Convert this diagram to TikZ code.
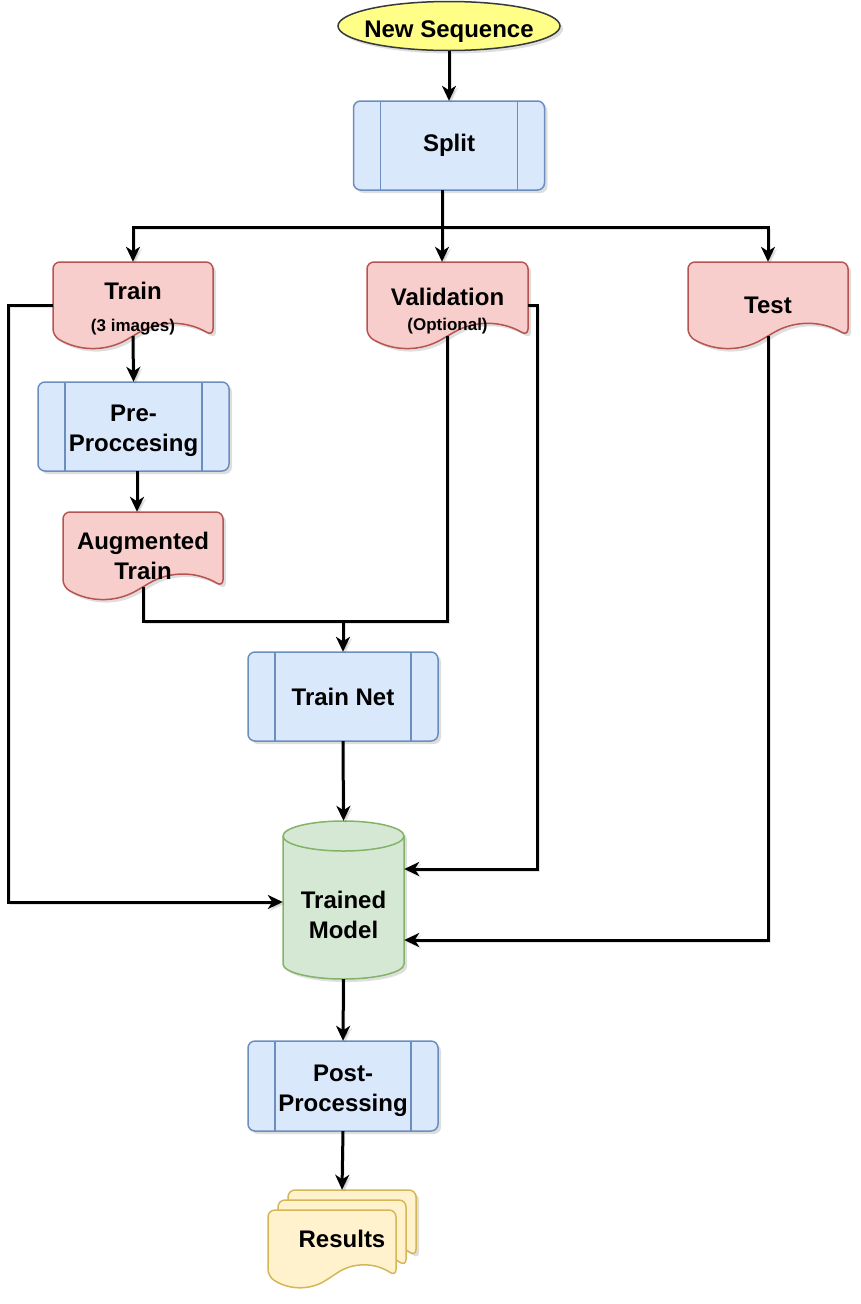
\documentclass[tikz,border=0pt]{standalone}
\usepackage{fontspec}
\setmainfont{Liberation Sans}
\usetikzlibrary{arrows.meta,shapes.geometric}
\definecolor{blueF}{HTML}{DAE8FC}\definecolor{blueD}{HTML}{6C8EBF}
\definecolor{pinkF}{HTML}{F8CECC}\definecolor{pinkD}{HTML}{B85450}
\definecolor{greenF}{HTML}{D5E8D4}\definecolor{greenD}{HTML}{82B366}
\definecolor{yelF}{HTML}{FFFF88}\definecolor{yelD}{HTML}{36393D}
\definecolor{resF}{HTML}{FFF2CC}\definecolor{resD}{HTML}{D6B656}
\newcommand\bigf{\fontsize{24}{30}\selectfont\bfseries}
\newcommand\smallf{\fontsize{17}{21}\selectfont\bfseries}
\newcommand\strutup[1]{\rule{0pt}{#1pt}}
\tikzset{
  wire/.style={line width=3pt, draw=black,
    preaction={draw=black!70, opacity=0.15, transform canvas={shift={(2pt,-2pt)}}}},
  conn/.style={wire, -{Stealth[length=15pt,width=14pt,inset=4.5pt]}},
  shad/.style={fill=black, opacity=0.13},
  textn/.style={inner sep=0pt, align=center, font=\bigf, text=black},
}
% process box: name X Y w h text
\newcommand\procbox[6]{%
  \fill[shad, rounded corners=7pt] ({#2+3},{#3+3}) rectangle ++(#4,#5);
  \path[fill=blueF, draw=blueD, line width=1.5pt, rounded corners=7pt] (#2,#3) rectangle ++(#4,#5);
  \draw[blueD, line width=1.5pt] ({#2+27},#3) -- ++(0,#5);
  \draw[blueD, line width=1.5pt] ({#2+#4-27},#3) -- ++(0,#5);
  \node[textn, minimum width=#4pt, minimum height=#5pt] (#1) at ({#2+#4/2},{#3+#5/2}) {#6};
}
% document outline: X Y w h style
\newcommand\docshape[5]{%
  \path[#5, rounded corners=7pt] ({#1+#3/2},#2) -- ({#1+#3},#2) -- ({#1+#3},{#2+0.85*#4})
   .. controls ({#1+0.8333*#3},{#2+0.67*#4}) and ({#1+0.6667*#3},{#2+0.67*#4}) .. ({#1+0.5*#3},{#2+0.85*#4})
   .. controls ({#1+0.3333*#3},{#2+1.03*#4}) and ({#1+0.1667*#3},{#2+1.03*#4}) .. (#1,{#2+0.85*#4})
   -- (#1,#2) -- cycle;
}
% document box: name X Y w h fill draw text
\newcommand\docbox[8]{%
  \docshape{#2+3}{#3+3}{#4}{#5}{shad}
  \docshape{#2}{#3}{#4}{#5}{fill=#6, draw=#7, line width=1.5pt}
  \node[textn, minimum width=#4pt, minimum height=#5pt] (#1) at ({#2+#4/2},{#3+#5/2}) {#8};
}
\begin{document}
\begin{tikzpicture}[x=1pt,y=-1pt]
\useasboundingbox (0,0) rectangle (860,1304);

% start ellipse
\fill[shad] (452,29) ellipse [x radius=111pt, y radius=24.5pt];
\node[ellipse, fill=yelF, draw=yelD, line width=1.5pt, minimum width=222pt, minimum height=49pt,
      inner xsep=-25pt, inner ysep=0pt, font=\bigf] (ns) at (449,26) {\strutup{27}New Sequence};

% process boxes
\procbox{split}{353.5}{101}{191}{89}{Split}
\procbox{pre}{38}{382}{191}{89}{\strutup{26}Pre-\\Proccesing}
\procbox{tnet}{248}{652}{190}{89}{Train Net}
\procbox{post}{248}{1041}{190}{90}{\strutup{26}Post-\\Processing}

% documents
\docbox{train}{53}{262}{160}{87}{pinkF}{pinkD}{\strutup{24}Train\\[2pt]{\smallf (3 images)}}
\docbox{val}{367}{262}{161}{87}{pinkF}{pinkD}{\strutup{28}Validation\\[-5pt]{\smallf (Optional)}}
\docbox{test}{688}{262}{160}{87}{pinkF}{pinkD}{Test}
\docbox{aug}{63}{512}{160}{88}{pinkF}{pinkD}{Augmented\\Train}

% cylinder
\fill[shad, xshift=3pt, yshift=-3pt] (283,836) -- (283,964) arc[start angle=180,end angle=360,x radius=60.5pt,y radius=15pt] -- (404,836) arc[start angle=0,end angle=180,x radius=60.5pt,y radius=15pt] -- cycle;
\path[fill=greenF, draw=greenD, line width=1.5pt] (283,836) -- (283,964) arc[start angle=180,end angle=360,x radius=60.5pt,y radius=15pt] -- (404,836) arc[start angle=0,end angle=180,x radius=60.5pt,y radius=15pt] -- cycle;
\draw[greenD, line width=1.5pt] (283,836) arc[start angle=180,end angle=360,x radius=60.5pt,y radius=15pt];
\node[textn, minimum width=121pt, minimum height=128pt] (model) at (343.5,915) {Trained\\Model};

% results (multi document)
\docshape{291}{1193}{128}{78}{shad}
\docshape{288}{1190}{128}{78}{fill=resF, draw=resD, line width=1.5pt}
\docshape{278}{1200}{128}{78}{fill=resF, draw=resD, line width=1.5pt}
\docshape{268}{1210}{128}{78}{fill=resF, draw=resD, line width=1.5pt}
\node[textn, minimum width=148pt, minimum height=98pt] (res) at (342,1239) {\strutup{12}Results};

% connectors
\draw[conn] (ns.south) -- (split.north);
\coordinate (br) at (442,227);
\draw[wire] ([xshift=-7pt]split.south) -- (br);
\draw[conn] (br) -| (train.north);
\draw[conn] (br) -| (test.north);
\draw[conn] (br) -- (br |- val.north);

\coordinate (tl) at (8,305.5);
\draw[conn] (train.west) -- (tl) |- ([yshift=13pt]model.west);
\draw[conn] ([yshift=13pt]train.south) -- (pre.north);
\draw[conn] ([xshift=3.5pt]pre.south) -- ([xshift=3.5pt]pre.south |- aug.north);

\coordinate (mj) at (343,621);
\draw[wire] ([yshift=13pt]aug.south) |- (mj);
\draw[wire] ([yshift=13pt]val.south) |- (mj);
\draw[conn] (mj) -- (tnet.north);
\draw[conn] (tnet.south) -- ([yshift=30pt]model.north);

\coordinate (vr) at (537,305.5);
\draw[conn] (val.east) -- (vr) |- ([yshift=46pt]model.east);
\draw[conn] ([yshift=13pt]test.south) |- ([yshift=-25pt]model.east);

\draw[conn] (model.south) -- (post.north);
\draw[conn] (post.south) -- (res.north);
\end{tikzpicture}
\end{document}
